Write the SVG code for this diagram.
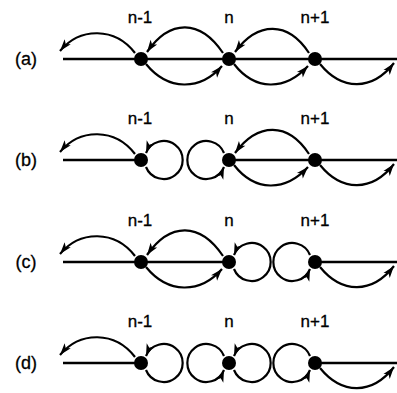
<svg xmlns="http://www.w3.org/2000/svg" width="397" height="393" viewBox="0 0 397 393">
<style>
.axis{stroke:#000;stroke-width:2.6;fill:none}
.arc{stroke:#000;stroke-width:2.2;fill:none;marker-end:url(#ah)}
.node{fill:#000}
.lbl{font-family:"Liberation Sans",Arial,sans-serif;font-size:17px;fill:#000;stroke:#000;stroke-width:0.3;text-anchor:middle}
.row{font-family:"Liberation Sans",Arial,sans-serif;font-size:18px;fill:#000;stroke:#000;stroke-width:0.3;text-anchor:middle}
</style>
<defs>
<marker id="ah" markerUnits="userSpaceOnUse" markerWidth="14" markerHeight="10" refX="12" refY="4" orient="auto" overflow="visible">
<path d="M0,0 L12,4 L0,8 L3,4 z" fill="#000"/>
</marker>
</defs>
<rect width="397" height="393" fill="#fff"/>

<!-- Row (a) -->
<g transform="translate(0,59)">
<text class="row" x="26" y="6">(a)</text>
<text class="lbl" x="140" y="-36">n-1</text>
<text class="lbl" x="229" y="-36">n</text>
<text class="lbl" x="315" y="-36">n+1</text>
<g id="a-connectors">
<path class="axis" d="M63,0 H397"/>
<path class="arc" d="M135,-6 C115,-32 80,-32 60,-8"/>
<path class="arc" d="M223,-6 C200,-40 170,-40 147,-7"/>
<path class="arc" d="M309,-6 C288,-38 258,-38 235,-7"/>
<path class="arc" d="M146,5 C168,32 200,32 222,7"/>
<path class="arc" d="M234,5 C255,32 285,32 308,7"/>
<path class="arc" d="M320,5 C342,32 372,32 394,4"/>
</g>
<g id="a-node-n-1"><circle class="node" cx="141" cy="0" r="7"/></g>
<g id="a-node-n"><circle class="node" cx="229" cy="0" r="7"/></g>
<g id="a-node-n+1"><circle class="node" cx="315" cy="0" r="7"/></g>
</g>

<!-- Row (b) -->
<g transform="translate(0,160)">
<text class="row" x="26" y="6">(b)</text>
<text class="lbl" x="140" y="-36">n-1</text>
<text class="lbl" x="229" y="-36">n</text>
<text class="lbl" x="315" y="-36">n+1</text>
<g id="b-connectors">
<path class="axis" d="M63,0 H141"/>
<path class="axis" d="M229,0 H397"/>
<path class="arc" d="M135,-6 C115,-32 80,-32 60,-8"/>
<path class="arc" d="M146,7 A19,19 0 1 0 146,-7"/>
<path class="arc" d="M224,-7 A19,19 0 1 0 224,7"/>
<path class="arc" d="M309,-6 C288,-38 258,-38 235,-7"/>
<path class="arc" d="M234,5 C255,32 285,32 308,7"/>
<path class="arc" d="M320,5 C342,32 372,32 394,4"/>
</g>
<g id="b-node-n-1"><circle class="node" cx="141" cy="0" r="7"/></g>
<g id="b-node-n"><circle class="node" cx="229" cy="0" r="7"/></g>
<g id="b-node-n+1"><circle class="node" cx="315" cy="0" r="7"/></g>
</g>

<!-- Row (c) -->
<g transform="translate(0,262)">
<text class="row" x="26" y="6">(c)</text>
<text class="lbl" x="140" y="-36">n-1</text>
<text class="lbl" x="229" y="-36">n</text>
<text class="lbl" x="315" y="-36">n+1</text>
<g id="c-connectors">
<path class="axis" d="M63,0 H229"/>
<path class="axis" d="M315,0 H397"/>
<path class="arc" d="M135,-6 C115,-32 80,-32 60,-8"/>
<path class="arc" d="M223,-6 C200,-40 170,-40 147,-7"/>
<path class="arc" d="M146,5 C168,32 200,32 222,7"/>
<path class="arc" d="M234,7 A19,19 0 1 0 234,-7"/>
<path class="arc" d="M310,-7 A19,19 0 1 0 310,7"/>
<path class="arc" d="M320,5 C342,32 372,32 394,4"/>
</g>
<g id="c-node-n-1"><circle class="node" cx="141" cy="0" r="7"/></g>
<g id="c-node-n"><circle class="node" cx="229" cy="0" r="7"/></g>
<g id="c-node-n+1"><circle class="node" cx="315" cy="0" r="7"/></g>
</g>

<!-- Row (d) -->
<g transform="translate(0,363)">
<text class="row" x="26" y="6">(d)</text>
<text class="lbl" x="140" y="-36">n-1</text>
<text class="lbl" x="229" y="-36">n</text>
<text class="lbl" x="315" y="-36">n+1</text>
<g id="d-connectors">
<path class="axis" d="M63,0 H141"/>
<path class="axis" d="M315,0 H397"/>
<path class="arc" d="M135,-6 C115,-32 80,-32 60,-8"/>
<path class="arc" d="M146,7 A19,19 0 1 0 146,-7"/>
<path class="arc" d="M224,-7 A19,19 0 1 0 224,7"/>
<path class="arc" d="M234,7 A19,19 0 1 0 234,-7"/>
<path class="arc" d="M310,-7 A19,19 0 1 0 310,7"/>
<path class="arc" d="M320,5 C342,32 372,32 394,4"/>
</g>
<g id="d-node-n-1"><circle class="node" cx="141" cy="0" r="7"/></g>
<g id="d-node-n"><circle class="node" cx="229" cy="0" r="7"/></g>
<g id="d-node-n+1"><circle class="node" cx="315" cy="0" r="7"/></g>
</g>
</svg>
